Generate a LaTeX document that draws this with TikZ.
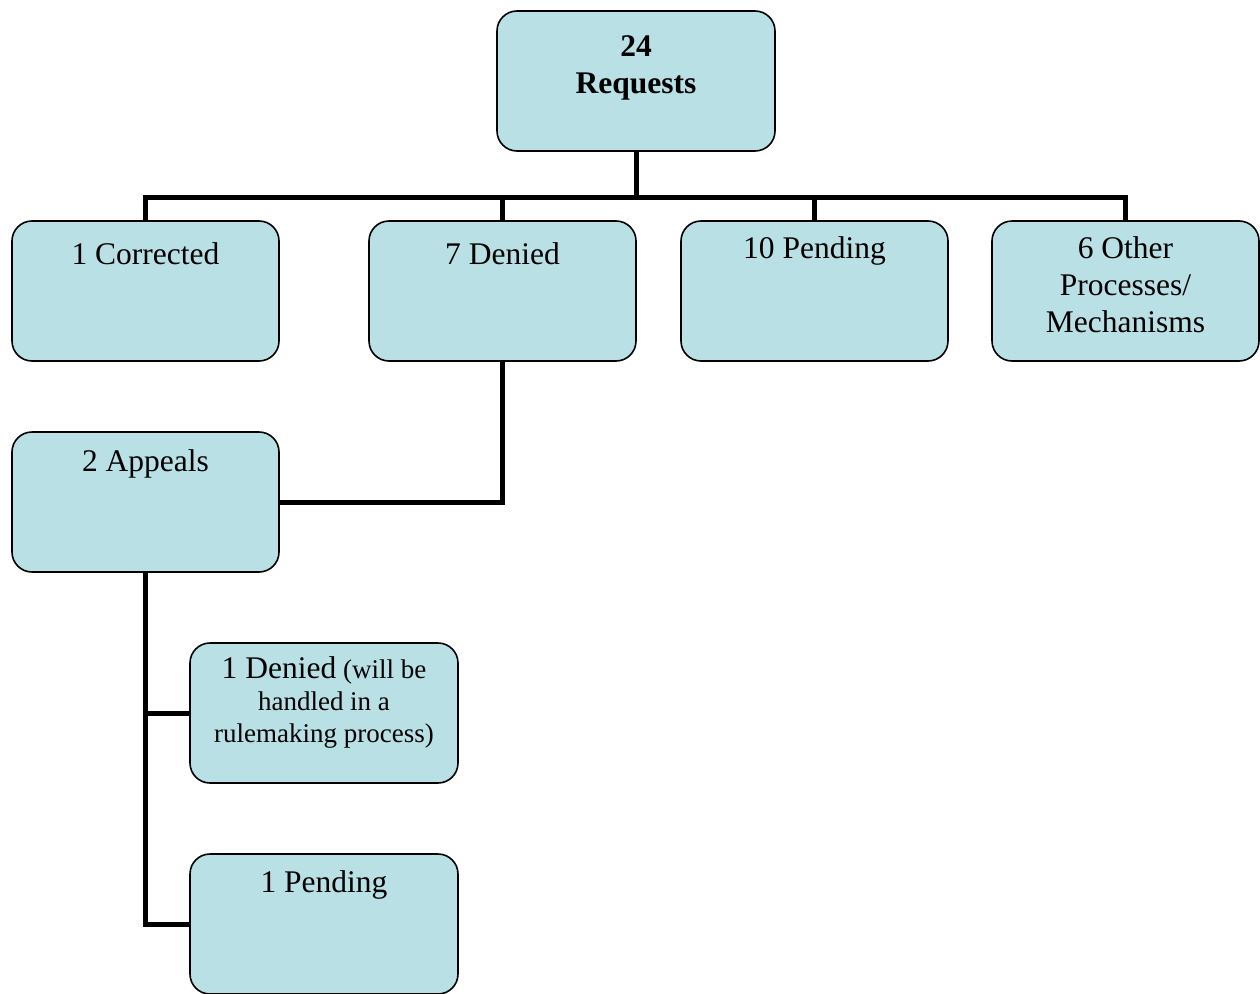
\documentclass[tikz,border=0pt]{standalone}
\usepackage{fontspec}
\setmainfont{Liberation Serif}
\usetikzlibrary{calc}
\definecolor{boxblue}{RGB}{185,224,228}

\begin{document}
\begin{tikzpicture}[x=1pt,y=-1pt]
	\tikzset{blk/.style={draw=black,fill=boxblue,line width=1.6pt,rounded corners=20pt,
			minimum width=267pt,minimum height=140pt,inner sep=0pt},
		txt/.style={anchor=north,align=center,inner sep=0pt,font=\fontsize{31.5}{37}\selectfont},
		conn/.style={draw=black,line width=5pt,line join=miter}}
	\def\rowy{291} \def\busy{197}
	\useasboundingbox (0,0) rectangle (1260,993);
	% boxes
	\node[blk,minimum width=278pt] (req) at (636,81) {};
	\node[blk] (corr) at (145.5,\rowy) {};
	\node[blk] (den) at (502.5,\rowy) {};
	\node[blk] (pend) at (814.5,\rowy) {};
	\node[blk] (oth) at (1125.5,\rowy) {};
	\node[blk] (app) at (145.5,502) {};
	\node[blk,minimum width=268pt] (denA) at (324,713) {};
	\node[blk,minimum width=268pt] (pendA) at (324,924) {};
	% texts
	\node[txt] (reqT) at ([yshift=-25pt]req.north) {\bfseries 24\\\bfseries Requests};
	\node[txt] (corrT) at ([yshift=-22pt]corr.north) {1 Corrected};
	\node[txt] (denT) at ([yshift=-22pt]den.north) {7 Denied};
	\node[txt] (pendT) at ([yshift=-16pt]pend.north) {10 Pending};
	\node[txt] (othT) at ([yshift=-16pt]oth.north) {6 Other\\Processes/\\Mechanisms};
	\node[txt] (appT) at ([yshift=-18pt]app.north) {2 Appeals};
	\node[txt,font=\fontsize{27}{32}\selectfont] (denAT) at ([yshift=-14pt]denA.north)
		{{\fontsize{31.5}{32}\selectfont 1 Denied} (will be\\handled in a\\rulemaking process)};
	\node[txt] (pendAT) at ([yshift=-17pt]pendA.north) {1 Pending};
	% connectors
	\coordinate (bus) at (636,\busy);
	\draw[conn] (req.south) -- (bus);
	\draw[conn] (corr.north) -- (corr.north |- bus) -- (oth.north |- bus) -- (oth.north);
	\foreach \n in {den,pend}
		\draw[conn] (\n.north) -- (\n.north |- bus);
	\draw[conn] (den.south) |- (app.east);
	\draw[conn] (app.south) |- (pendA.west);
	\draw[conn] (app.south |- denA.west) -- (denA.west);
\end{tikzpicture}
\end{document}
